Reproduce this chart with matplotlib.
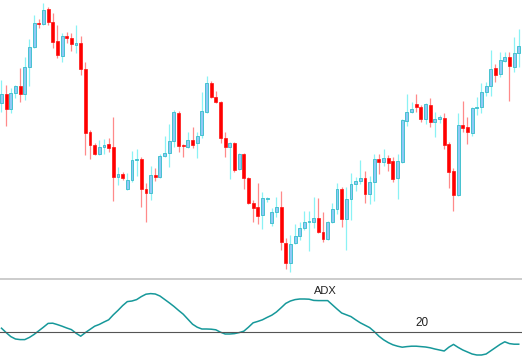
import numpy as np
import matplotlib
matplotlib.use('Agg')
import matplotlib.pyplot as plt
from matplotlib.lines import Line2D

plt.rcParams['font.family'] = ['Liberation Sans', 'DejaVu Sans']

# candle data (open, high, low, close), one entry per bar
opens = [197, 206, 191, 207, 214, 206, 233, 253, 277, 276, 291, 278, 259, 244, 264, 262,
         255, 257, 231, 168, 155, 146, 153, 156, 153, 123, 126, 111, 120, 140, 141, 111,
         107, 125, 123, 144, 147, 159, 187, 155, 153, 160, 157, 165, 188, 217, 203, 198,
         162, 153, 157, 131, 146, 122, 97, 93, 85, 101, 77, 88, 93, 57, 37, 57,
         64, 72, 78, 78, 82, 68, 61, 78, 91, 111, 81, 101, 116, 119, 122, 106,
         118, 141, 138, 142, 139, 122, 138, 179, 188, 196, 193, 181, 195, 178, 181, 182,
         156, 129, 105, 175, 173, 167, 192, 193, 208, 214, 232, 226, 239, 243, 233, 247]
highs = [220, 215, 212, 215, 232, 243, 261, 285, 281, 297, 293, 287, 275, 267, 268, 267,
         275, 264, 238, 170, 157, 160, 161, 162, 183, 133, 128, 127, 149, 151, 143, 117,
         134, 132, 146, 164, 176, 190, 189, 156, 168, 173, 168, 208, 224, 219, 209, 199,
         168, 158, 158, 147, 147, 123, 100, 117, 108, 103, 92, 103, 109, 62, 65, 76,
         78, 89, 89, 103, 102, 88, 79, 97, 117, 113, 113, 127, 123, 140, 129, 124,
         146, 146, 151, 145, 143, 146, 181, 206, 198, 206, 195, 197, 202, 188, 185, 187,
         158, 132, 187, 199, 183, 193, 203, 217, 218, 250, 236, 248, 248, 248, 263, 271]
lows = [188, 174, 187, 202, 198, 200, 214, 252, 272, 275, 275, 252, 242, 238, 257, 249,
        247, 225, 145, 141, 145, 145, 146, 148, 99, 115, 120, 110, 118, 124, 93, 78,
        100, 119, 122, 143, 133, 153, 148, 143, 152, 152, 142, 162, 187, 202, 197, 157,
        143, 121, 128, 130, 111, 96, 78, 76, 71, 98, 74, 83, 50, 31, 28, 56,
        60, 70, 49, 72, 67, 58, 60, 77, 86, 73, 50, 80, 109, 116, 97, 96,
        99, 126, 134, 129, 118, 101, 137, 174, 187, 188, 178, 176, 173, 163, 177, 151,
        112, 89, 104, 168, 156, 164, 185, 187, 204, 204, 218, 223, 238, 199, 228, 233]
closes = [206, 191, 207, 214, 206, 233, 253, 277, 276, 290, 278, 258, 245, 264, 262, 256,
          257, 231, 167, 155, 146, 153, 155, 152, 123, 126, 122, 120, 140, 141, 111, 107,
          125, 123, 144, 147, 159, 188, 154, 154, 160, 155, 164, 189, 217, 203, 198, 162,
          153, 157, 130, 146, 122, 97, 92, 84, 102, 102, 88, 93, 58, 37, 56, 64,
          72, 78, 79, 82, 68, 61, 78, 91, 111, 81, 101, 116, 119, 122, 106, 118,
          141, 138, 142, 137, 121, 139, 180, 188, 191, 193, 181, 196, 178, 181, 183, 155,
          128, 105, 175, 172, 168, 192, 193, 208, 214, 231, 225, 240, 243, 234, 247, 254]

# ADX reading under each bar
adx = [21.9, 19.7, 17.7, 16.5, 16.2, 16.2, 17.3, 18.8, 20.6, 22.4, 24.3, 24.4, 23.7, 22.9,
       22.0, 21.2, 19.4, 17.9, 19.7, 21.3, 22.9, 23.8, 25.0, 26.1, 28.6, 30.8, 33.2, 35.2,
       35.5, 36.2, 37.7, 38.9, 39.2, 39.0, 38.0, 36.3, 34.6, 32.8, 30.8, 28.9, 26.4, 23.9,
       22.4, 21.5, 21.5, 21.4, 21.1, 19.9, 19.0, 19.0, 19.2, 19.7, 20.4, 22.4, 24.6, 25.3,
       26.1, 27.3, 28.4, 30.0, 32.1, 34.3, 35.5, 36.2, 36.5, 36.5, 36.4, 35.8, 35.7, 35.7,
       35.7, 33.6, 31.5, 29.5, 28.6, 27.7, 26.1, 24.6, 23.4, 22.2, 20.2, 17.9, 16.1, 14.7,
       13.6, 12.9, 12.4, 12.7, 12.9, 12.9, 12.7, 12.5, 12.1, 11.5, 11.0, 10.5, 12.4, 13.8,
       12.3, 11.0, 10.0, 9.0, 8.5, 8.5, 9.0, 10.6, 12.2, 13.8, 15.1, 14.2, 13.9, 13.9]
adx_level = 20

o = np.array(opens)
h = np.array(highs)
l = np.array(lows)
c = np.array(closes)
x = np.arange(len(o))
up = c >= o

fig = plt.figure(figsize=(5.22, 3.61), dpi=100)
fig.patch.set_facecolor('white')

# price panel
ax = fig.add_axes([0, 1 - 277 / 361, 1, 277 / 361])
wick_col = np.where(up, '#8af2f5', '#ff8a8a')
ax.vlines(x, l, h, colors=wick_col, linewidth=0.9, zorder=1)
body_lo = np.minimum(o, c)
body_h = np.maximum(np.abs(c - o), 1)
ax.bar(x[up], body_h[up], bottom=body_lo[up], width=0.62,
       color='#8ec8f6', edgecolor='#45c3cf', linewidth=0.7, zorder=2)
ax.bar(x[~up], body_h[~up], bottom=body_lo[~up], width=0.62,
       color='#ff0000', edgecolor='#ff1010', linewidth=0.5, zorder=2)
ax.set_xlim(-0.32, 111.7)
ax.set_ylim(23, 300)
ax.axis('off')

# separator between the panels
fig.add_artist(Line2D([0, 1], [1 - 279 / 361] * 2, color='#c8c8c8', linewidth=1.3))

# ADX panel
ax2 = fig.add_axes([0, 0, 1, 81 / 361])
ax2.plot(x, adx, color='#16989a', linewidth=1.1)
ax2.axhline(adx_level, color='#555555', linewidth=0.8)
ax2.text(69.6, 40.5, 'ADX', fontsize=8, ha='center', va='center', color='#222222')
ax2.text(90.2, 24.5, str(adx_level), fontsize=8.5, ha='center', va='center', color='#222222')
ax2.set_xlim(-0.32, 111.7)
ax2.set_ylim(5.5, 46)
ax2.axis('off')

plt.savefig('out.png', dpi=100)
